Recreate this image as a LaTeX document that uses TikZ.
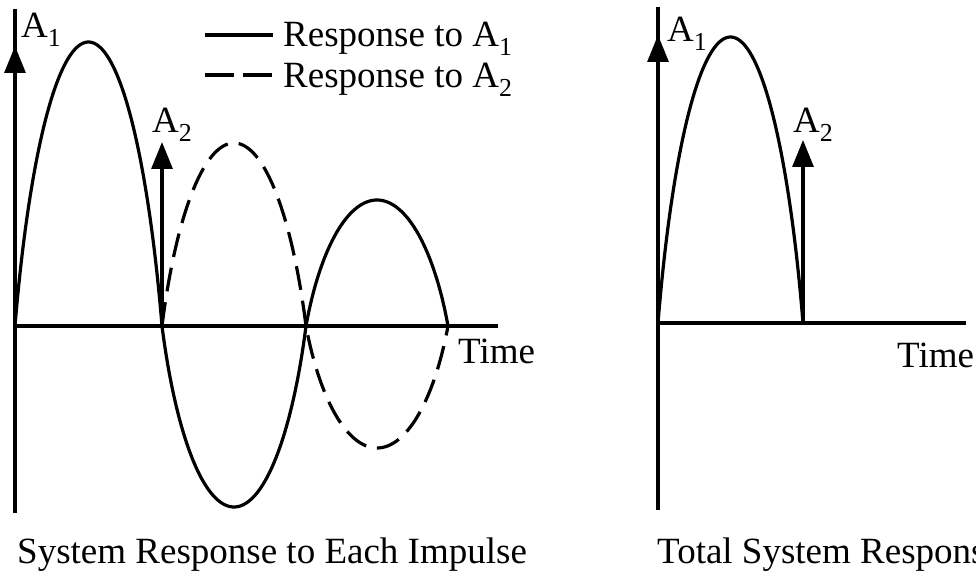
\documentclass[tikz,border=0pt]{standalone}
\usepackage{fontspec}
\setmainfont{Liberation Serif}
\usetikzlibrary{arrows.meta}
\begin{document}
\begin{tikzpicture}[x=1pt,y=-1pt,
  ln/.style={line width=3.2pt},
  imp/.style={line width=3.2pt,-{Triangle[length=27pt,width=21pt]}},
  lbl/.style={inner sep=0pt,anchor=base west,font=\fontsize{37}{44}\selectfont},
  dsh/.style={line width=3.2pt,dash pattern=on 24pt off 11pt}]
\useasboundingbox (0,0) rectangle (976,577);
% ---------- left panel ----------
\coordinate (Ltop) at (15,9);
\coordinate (Lbot) at (15,513);
\coordinate (Lo) at (15,326);
\coordinate (Lend) at (498,326);
\coordinate (LA1) at (15,46);
\coordinate (LA2b) at (162,326);
\coordinate (LA2) at (162,142);
\draw[ln] (Ltop) -- (Lbot);
\draw[ln] (Lo) -- (Lend);
\draw[imp] (Lo) -- (LA1);
\draw[imp] (LA2b) -- (LA2);
\node[lbl] (la1) at (21,38) {A\textsubscript{1}};
\node[lbl] (la2) at (152,133) {A\textsubscript{2}};
% solid response to A1
\draw[ln,line join=round] plot[domain=0:180,samples=90,variable=\th] ({15+147*(0.5*\th/180+0.25*(1-cos(\th)))},{326-284*sin(\th)});
\draw[ln,line join=round] plot[domain=0:180,samples=90,variable=\th] ({162+144*(0.5*\th/180+0.25*(1-cos(\th)))},{326+181*sin(\th)});
\draw[ln,line join=round] plot[domain=0:180,samples=90,variable=\th] ({306+142*(0.5*\th/180+0.25*(1-cos(\th)))},{326-126*sin(\th)});
% dashed response to A2
\draw[dsh] plot[domain=0:180,samples=90,variable=\th] ({162+144*(0.5*\th/180+0.25*(1-cos(\th)))},{326-183*sin(\th)})
  -- plot[domain=0:180,samples=90,variable=\th] ({306+142*(0.5*\th/180+0.25*(1-cos(\th)))},{326+122*sin(\th)});
% legend
\coordinate (g1a) at (205,35);
\coordinate (g1b) at (273,35);
\coordinate (g2a) at (205,75);
\coordinate (g2b) at (273,75);
\draw[ln] (g1a) -- (g1b);
\draw[line width=3.2pt,dash pattern=on 29pt off 9pt] (g2a) -- (g2b);
\node[lbl] (leg1) at (283,47) {Response to A\textsubscript{1}};
\node[lbl] (leg2) at (283,88) {Response to A\textsubscript{2}};
\node[lbl] (ltime) at (458,363) {Time};
\node[lbl] (lcap) at (17,563) {System Response to Each Impulse};
% ---------- right panel ----------
\coordinate (Rtop) at (658,7);
\coordinate (Rbot) at (658,510);
\coordinate (Ro) at (658,323);
\coordinate (Rend) at (966,323);
\coordinate (RA1) at (658,35);
\coordinate (RA2b) at (803,323);
\coordinate (RA2) at (803,140);
\draw[ln] (Rtop) -- (Rbot);
\draw[ln] (Ro) -- (Rend);
\draw[imp] (Ro) -- (RA1);
\draw[imp] (RA2b) -- (RA2);
\node[lbl] (ra1) at (667,42) {A\textsubscript{1}};
\node[lbl] (ra2) at (793,133) {A\textsubscript{2}};
\draw[ln,line join=round] plot[domain=0:180,samples=90,variable=\th] ({658+145*(0.5*\th/180+0.25*(1-cos(\th)))},{323-286*sin(\th)});
\node[lbl] (rtime) at (897,367) {Time};
\node[lbl] (rcap) at (657,563) {Total System Response};
\end{tikzpicture}
\end{document}
